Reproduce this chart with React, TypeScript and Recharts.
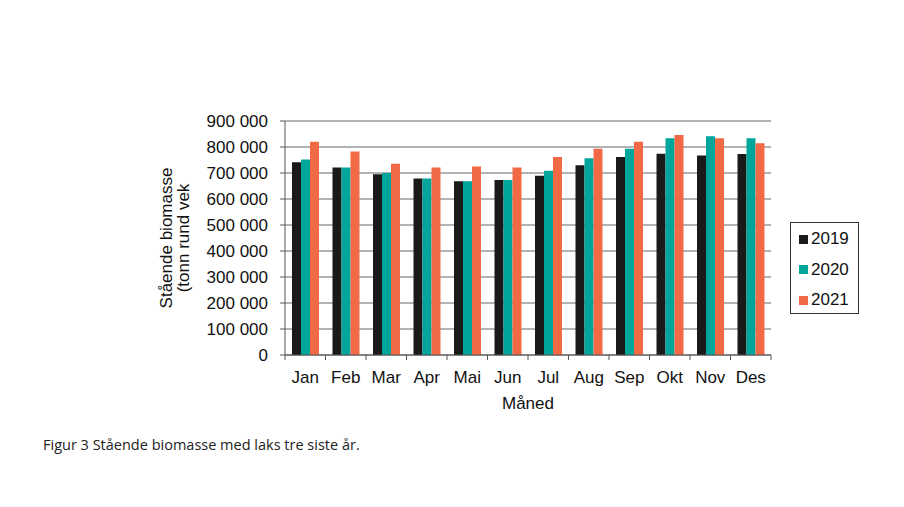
import React from 'react';
import {
  BarChart,
  Bar,
  XAxis,
  YAxis,
  CartesianGrid,
} from 'recharts';

// ============================================
// DATA
// ============================================

const MONTHS = ['Jan', 'Feb', 'Mar', 'Apr', 'Mai', 'Jun', 'Jul', 'Aug', 'Sep', 'Okt', 'Nov', 'Des'];

const Y2019 = [741000, 721000, 695000, 679000, 668000, 673000, 689000, 730000, 762000, 774000, 767000, 773000];
const Y2020 = [752000, 721000, 700000, 679000, 668000, 673000, 709000, 757000, 793000, 834000, 841000, 834000];
const Y2021 = [820000, 783000, 736000, 721000, 725000, 721000, 762000, 793000, 820000, 846000, 834000, 814000];

const Y_TICKS = [0, 100000, 200000, 300000, 400000, 500000, 600000, 700000, 800000, 900000];

const SERIES = [
  { key: 'y2019', name: '2019', color: '#1a1a1a' },
  { key: 'y2020', name: '2020', color: '#00a59b' },
  { key: 'y2021', name: '2021', color: '#f26a45' },
];

// ============================================
// CONSTANTS
// ============================================

const FONT = '"Liberation Sans", Arial, sans-serif';
const TEXT = '#111111';
const AXIS = '#555555';
const GRID = '#666666';

const chartData = MONTHS.map((m, i) => ({
  month: m,
  y2019: Y2019[i],
  y2020: Y2020[i],
  y2021: Y2021[i],
}));

const formatTick = (v: number) =>
  v === 0 ? '0' : `${Math.floor(v / 1000)} ${String(v % 1000).padStart(3, '0')}`;

// ============================================
// HELPER COMPONENTS
// ============================================

function MonthTick(props: any) {
  const { x, y, payload, index } = props;
  const half = 40.5 / 2;
  return (
    <g>
      <line x1={x - half} y1={y - 8} x2={x - half} y2={y - 3} stroke={AXIS} />
      {index === MONTHS.length - 1 && (
        <line x1={x + half} y1={y - 8} x2={x + half} y2={y - 3} stroke={AXIS} />
      )}
      <text x={x} y={y + 20} textAnchor="middle" fill={TEXT} fontSize={17} fontFamily={FONT}>
        {payload.value}
      </text>
    </g>
  );
}

function LegendBox() {
  return (
    <div
      style={{
        position: 'absolute',
        left: 790,
        top: 222,
        width: 69,
        height: 92,
        border: '1px solid #333',
        background: '#fff',
        fontFamily: FONT,
        fontSize: 17,
        color: TEXT,
        boxSizing: 'border-box',
        paddingTop: 1,
      }}
    >
      {SERIES.map((s) => (
        <div key={s.key} style={{ display: 'flex', alignItems: 'center', height: 30.5, paddingLeft: 8 }}>
          <div style={{ width: 9, height: 9, background: s.color, marginRight: 3 }} />
          <span>{s.name}</span>
        </div>
      ))}
    </div>
  );
}

// ============================================
// COMPONENT
// ============================================

export default function App() {
  return (
    <div style={{ position: 'relative', width: 904, height: 507, background: '#fff' }}>
      <style>{'body{margin:0}'}</style>
      <BarChart
        width={904}
        height={507}
        data={chartData}
        margin={{ top: 121, right: 133, left: 205, bottom: 122 }}
        barGap={0}
        barSize={9}
      >
        <CartesianGrid horizontal vertical={false} stroke={GRID} strokeWidth={1} />
        <XAxis
          dataKey="month"
          height={30}
          tickLine={false}
          axisLine={{ stroke: AXIS }}
          tick={<MonthTick />}
          interval={0}
          label={{
            value: 'Måned',
            position: 'insideBottom',
            offset: -24,
            style: { fill: TEXT, fontSize: 17, fontFamily: FONT },
          }}
        />
        <YAxis
          width={80}
          domain={[0, 900000]}
          ticks={Y_TICKS}
          tickFormatter={formatTick}
          tickSize={5}
          tickMargin={12}
          tickLine={{ stroke: AXIS }}
          axisLine={{ stroke: AXIS }}
          tick={{ fill: TEXT, fontSize: 17, fontFamily: FONT }}
          interval={0}
          label={{
            content: () => (
              <text
                transform="translate(172, 238) rotate(-90)"
                textAnchor="middle"
                fill={TEXT}
                fontSize={17}
                fontFamily={FONT}
              >
                <tspan x={0} dy={0}>Stående biomasse</tspan>
                <tspan x={0} dy={17}>(tonn rund vek</tspan>
              </text>
            ),
          }}
        />
        <YAxis
          yAxisId="right"
          orientation="right"
          width={0}
          domain={[0, 900000]}
          tick={false}
          tickLine={false}
          axisLine={{ stroke: '#9a9a9a' }}
        />
        {SERIES.map((s) => (
          <Bar key={s.key} dataKey={s.key} name={s.name} fill={s.color} isAnimationActive={false} />
        ))}
      </BarChart>
      <LegendBox />
      <div
        style={{
          position: 'absolute',
          left: 43,
          top: 435,
          fontFamily: '"Open Sans", sans-serif',
          fontSize: 14.5,
          color: '#222',
        }}
      >
        Figur 3 Stående biomasse med laks tre siste år.
      </div>
    </div>
  );
}
